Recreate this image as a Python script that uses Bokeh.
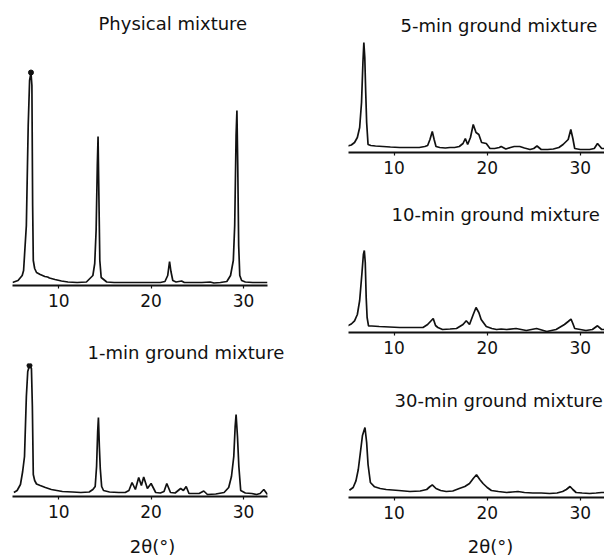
from bokeh.plotting import figure
from bokeh.layouts import row, column
from bokeh.models import Range1d, FixedTicker
from bokeh.core.properties import value
from bokeh.embed import file_html
from bokeh.resources import INLINE

# ---------------- data (2theta in degrees, intensity in arbitrary units) ----------------
pm_x = [5.0, 5.6, 6.05, 6.2, 6.5, 6.7, 6.85, 7.0, 7.1, 7.18, 7.25, 7.4, 7.6, 8.0, 8.5, 8.8, 9.0,
        9.6, 10.3, 11.0, 12.0, 13.0, 13.7, 13.9, 14.05, 14.18, 14.26, 14.35, 14.45, 14.6, 15.2,
        16.0, 17.0, 18.0, 19.0, 20.0, 21.0, 21.5, 21.8, 22.0, 22.15, 22.35, 22.7, 23.3, 23.6,
        24.5, 25.5, 26.4, 26.8, 27.5, 28.2, 28.6, 28.9, 29.05, 29.2, 29.29, 29.38, 29.48, 29.6,
        29.8, 30.2, 31.0, 31.8, 32.6]
pm_y = [3, 5, 10, 15, 60, 160, 205, 213, 200, 80, 25, 17, 13, 11, 9, 8.5, 7.5,
        6, 4.5, 3.5, 3, 3.5, 10, 22, 55, 120, 149, 90, 25, 8, 3.5,
        3, 3, 3, 3, 3, 3, 4, 10, 24, 14, 5, 3.5, 4.5, 3,
        3, 3, 3.5, 2.5, 3, 4, 10, 25, 60, 150, 175, 120, 40, 10,
        5, 3.5, 3, 3, 3]

g1_x = [5.15, 5.5, 5.86, 6.1, 6.3, 6.5, 6.65, 6.84, 7.05, 7.15, 7.25, 7.4, 7.6, 8.0, 8.56, 9.2,
        10.4, 11.5, 12.4, 13.3, 13.7, 13.95, 14.1, 14.22, 14.3, 14.4, 14.5, 14.65, 14.85, 15.5,
        16.5, 17.2, 17.6, 17.94, 18.3, 18.66, 18.95, 19.2, 19.6, 20.0, 20.5, 21.0, 21.4, 21.7,
        22.1, 22.6, 23.2, 23.5, 23.8, 24.1, 24.6, 25.2, 25.7, 26.1, 27.0, 27.9, 28.4, 28.7,
        28.95, 29.1, 29.2, 29.35, 29.5, 29.7, 30.2, 30.9, 31.4, 31.8, 32.2, 32.6]
g1_y = [4, 6, 12, 25, 40, 100, 125, 131, 128, 90, 22, 16, 12.5, 11, 9, 7,
        5, 4.5, 4, 4.5, 7, 10, 30, 65, 79, 50, 28, 10, 6, 4.5,
        4, 4, 6, 14, 7, 19, 11, 19.5, 8, 13, 4, 3.5, 5, 13,
        4, 3.5, 8, 6, 10, 3, 3, 3, 5.5, 2, 2.5, 4, 9, 20,
        40, 70, 82, 60, 30, 6, 3.5, 3, 2, 3, 7, 2]

g5_x = [5.0, 5.4, 5.75, 6.05, 6.3, 6.5, 6.65, 6.75, 6.85, 6.95, 7.05, 7.2, 7.5, 8.0, 8.8, 9.6,
        10.6, 11.6, 12.7, 13.3, 13.6, 13.85, 14.1, 14.3, 14.5, 14.9, 15.5, 16.0, 16.5, 17.0,
        17.4, 17.65, 17.9, 18.2, 18.5, 18.8, 19.1, 19.4, 19.9, 20.3, 20.8, 21.3, 21.5, 22.0,
        22.5, 22.9, 23.5, 24.0, 24.6, 25.0, 25.35, 25.8, 26.5, 27.1, 27.7, 28.15, 28.7, 28.98,
        29.2, 29.4, 30.0, 31.0, 31.5, 31.85, 32.3, 32.6]
g5_y = [6.5, 7.5, 10, 15, 25, 50, 90, 110, 95, 60, 30, 8, 7, 6.5, 6, 5.5,
        5, 5, 5, 6, 7, 13, 21, 13, 6, 5, 4.5, 5, 5, 6,
        9, 14, 8, 15, 28, 20, 18, 10, 9, 4, 4, 5, 6, 3.5,
        5, 6, 6, 4.5, 3, 4, 6.5, 3, 3, 3.5, 5, 8, 13, 23,
        14, 4, 3, 3, 4, 9, 4, 4]

g10_x = [5.0, 5.4, 5.75, 6.05, 6.3, 6.55, 6.7, 6.8, 6.9, 7.0, 7.1, 7.25, 7.6, 8.4, 9.5, 10.6,
         11.8, 13.1, 13.6, 13.9, 14.2, 14.45, 14.7, 15.2, 16.0, 16.7, 17.4, 17.75, 18.1, 18.5,
         18.8, 19.1, 19.35, 19.9, 20.5, 21.0, 21.5, 22.1, 23.1, 24.2, 25.3, 26.4, 27.4, 28.3,
         28.7, 29.0, 29.2, 29.4, 30.0, 30.6, 31.3, 31.85, 32.3, 32.6]
g10_y = [6.7, 8.5, 11.7, 18, 32, 60, 78, 82, 70, 35, 15, 6.7, 6.5, 6, 5.5, 5,
         5, 5, 8, 11, 14, 7, 5, 3, 3.5, 4, 8, 11.7, 8, 18,
         25, 20, 13, 6, 4, 3, 3.5, 3, 4, 2, 4, 1, 3, 8,
         11, 13.3, 9, 4, 3, 2, 3, 6.7, 3, 3]

g30_x = [5.2, 5.6, 5.9, 6.15, 6.35, 6.6, 6.87, 7.05, 7.2, 7.45, 7.9, 8.5, 9.15, 10.5, 11.7, 12.8,
         13.5, 13.8, 14.1, 14.5, 15.0, 15.6, 16.3, 17.0, 17.6, 18.1, 18.5, 18.85, 19.2, 19.55,
         20.0, 20.45, 21.2, 22.1, 22.7, 23.3, 24.0, 24.9, 25.8, 26.7, 27.5, 28.1, 28.5, 28.9,
         29.2, 29.55, 30.2, 31.0, 31.7, 32.3, 32.6]
g30_y = [7.3, 10, 16.7, 28, 43, 62, 70, 55, 33, 15, 10.7, 9, 8, 7, 6, 6.5,
         8, 10.5, 12.7, 9, 7, 6, 6.5, 9, 11, 14, 19, 22.7, 18, 14,
         10, 7, 6, 5, 5.5, 6, 5, 4.5, 4.5, 4, 4.5, 6, 8, 11,
         8, 5, 4.5, 4, 4.5, 5, 5]

titles = ["Physical mixture", "1-min ground mixture", "5-min ground mixture",
          "10-min ground mixture", "30-min ground mixture"]
tick_values = [10, 20, 30]
x_label = "2\u03b8(\u00b0)"

FONT = "DejaVu Sans"
INK = "#111111"


def panel(title, xs, ys, w, h, xr, bl, br, bt, bb, t_off, t_stand, dot=False):
    frame_h = h - bt - bb
    p = figure(width=w, height=h, output_backend="svg", toolbar_location=None,
               x_range=Range1d(*xr), y_range=Range1d(0, frame_h),
               y_axis_location=None, min_border_left=bl, min_border_right=br,
               min_border_top=bt, min_border_bottom=bb, title=title)
    p.outline_line_color = None
    p.xgrid.visible = False
    p.ygrid.visible = False
    p.background_fill_color = "white"
    p.border_fill_color = "white"
    p.title.text_font = FONT
    p.title.text_font_size = "18px"
    p.title.text_font_style = "normal"
    p.title.text_color = INK
    p.title.align = "left"
    p.title.offset = t_off
    p.title.standoff = t_stand
    ax = p.xaxis[0]
    ax.ticker = FixedTicker(ticks=tick_values, minor_ticks=[])
    ax.axis_line_color = INK
    ax.axis_line_width = 1.8
    ax.major_tick_line_color = INK
    ax.major_tick_line_width = 1.2
    ax.major_tick_in = 0
    ax.major_tick_out = 3
    ax.minor_tick_line_color = None
    ax.major_label_text_font = FONT
    ax.major_label_text_font_size = "17px"
    ax.major_label_text_color = INK
    ax.major_label_standoff = 5
    p.line(xs, ys, line_color=INK, line_width=1.7)
    if dot:
        i = ys.index(max(ys))
        p.scatter([xs[i]], [ys[i]], size=5, color=INK)
    return p


def label_strip(host, w, h, bl, br, below, label_x):
    # thin strip under a panel that carries the 2θ axis title
    s = figure(width=w, height=h, output_backend="svg", toolbar_location=None,
               x_range=host.x_range, y_range=Range1d(-below, h - below),
               x_axis_location=None, y_axis_location=None,
               min_border_left=bl, min_border_right=br, min_border_top=0,
               min_border_bottom=0)
    s.outline_line_color = None
    s.xgrid.visible = False
    s.ygrid.visible = False
    s.background_fill_color = "white"
    s.border_fill_color = "white"
    s.text(x=[label_x], y=[0], text=[x_label], text_align="center",
           text_baseline="middle", text_font=value(FONT), text_font_size="18px",
           text_color=INK)
    return s


LX = (5.0, 32.6)
RX = (5.1, 32.6)

p1 = panel(titles[0], pm_x, pm_y, 300, 325, LX, 12, 33, 35, 40, 86, 3, dot=True)
p2 = panel(titles[1], g1_x, g1_y, 300, 205, LX, 12, 33, 38, 34, 75, 2, dot=True)
s2 = label_strip(p2, 300, 28, 12, 33, 12, 20.15)
p3 = panel(titles[2], g5_x, g5_y, 304, 185, RX, 48, 0, 36, 33, 52, 2)
p4 = panel(titles[3], g10_x, g10_y, 304, 180, RX, 48, 0, 40, 33, 43, 2)
p5 = panel(titles[4], g30_x, g30_y, 304, 165, RX, 48, 0, 46, 33, 46, 2)
s5 = label_strip(p5, 304, 28, 48, 0, 12, 20.35)

layout = row(column(p1, p2, s2, spacing=0), column(p3, p4, p5, s5, spacing=0), spacing=0)

open("out.html", "w").write(file_html(layout, INLINE))
